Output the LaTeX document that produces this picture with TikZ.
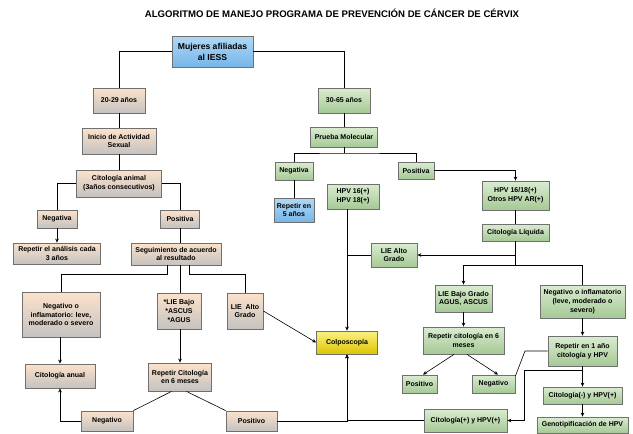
\documentclass[tikz,border=0pt]{standalone}
\usepackage{fontspec}
\setmainfont{Liberation Sans}
\usetikzlibrary{arrows.meta}
\definecolor{peachT}{RGB}{252,226,202}
\definecolor{peachB}{RGB}{196,194,192}
\definecolor{greenT}{RGB}{218,236,208}
\definecolor{greenB}{RGB}{165,201,150}
\definecolor{blueT}{RGB}{176,216,244}
\definecolor{blueB}{RGB}{118,182,234}
\definecolor{yellowT}{RGB}{250,242,130}
\definecolor{yellowB}{RGB}{222,196,0}
\definecolor{bordergray}{RGB}{112,112,112}
\tikzset{
  box/.style={draw=bordergray, line width=0.8pt, font=\bfseries\fontsize{7}{8.8}\selectfont, align=center, inner sep=1pt},
  peach/.style={box, top color=peachT, bottom color=peachB},
  green/.style={box, top color=greenT, bottom color=greenB},
  blue/.style={box, top color=blueT, bottom color=blueB},
  yellow/.style={box, top color=yellowT, bottom color=yellowB},
  wh/.style 2 args={minimum width=#1pt, minimum height=#2pt},
  conn/.style={draw=black, line width=0.6pt},
  arr/.style={conn, -{Stealth[length=4pt,width=3.6pt]}}
}
\begin{document}
\begin{tikzpicture}[x=1pt,y=-1pt]
\useasboundingbox (0,0) rectangle (633,434);
\fill[white] (0,0) rectangle (633,434);
\node[font=\bfseries\fontsize{9.6}{11}\selectfont] (title) at (332,13) {ALGORITMO DE MANEJO PROGRAMA DE PREVENCIÓN DE CÁNCER DE CÉRVIX};
% top
\node[blue, wh={81}{31}, font=\bfseries\fontsize{8.6}{11}\selectfont] (mujeres) at (212.5,51.5) {Mujeres afiliadas\\al IESS};
% left branch
\node[peach, wh={52}{25}] (a2029) at (119,100.5) {20-29 años};
\node[peach, wh={74}{26}] (inicio) at (119,141) {Inicio de Actividad\\Sexual};
\node[peach, wh={85}{27}] (citoanimal) at (119,183.5) {Citología animal\\(3años consecutivos)};
\node[peach, wh={40}{18}] (neg1) at (57,219) {Negativa};
\node[peach, wh={39}{18}] (pos1) at (180,219) {Positiva};
\node[peach, wh={87}{21}] (rep3) at (57,253.5) {Repetir el análisis cada\\3 años};
\node[peach, wh={90}{22}] (seg) at (176,254) {Seguimiento de acuerdo\\al resultado};
\node[peach, wh={78}{45}] (neginfl1) at (61,314.5) {Negativo o\\inflamatorio: leve,\\moderado o severo};
\node[peach, wh={44}{36}] (liebajo1) at (179,311) {*LIE Bajo\\*ASCUS\\*AGUS};
\node[peach, wh={36}{36}] (liealto1) at (245,311) {LIE\ \ Alto\\Grado};
\node[peach, wh={70}{24}] (citoanual) at (60,376) {Citología anual};
\node[peach, wh={63}{28}] (repcito1) at (180,377) {Repetir Citología\\en 6 meses};
\node[peach, wh={52}{20}] (negativo1) at (107,421) {Negativo};
\node[peach, wh={51}{20}] (positivo1) at (251.5,421) {Positivo};
\node[yellow, wh={61}{23}] (colpo) at (347,342.5) {Colposcopía};
% right branch
\node[green, wh={52}{25}] (a3065) at (344,100.5) {30-65 años};
\node[green, wh={67}{20}] (prueba) at (344,137) {Prueba Molecular};
\node[green, wh={38}{18}] (negativa2) at (294,171) {Negativa};
\node[blue, wh={40}{24}] (rep5) at (294,210) {Repetir en\\5 años};
\node[green, wh={36}{17}] (positiva2) at (416,170.5) {Positiva};
\node[green, wh={67}{29}] (hpv1618) at (515.5,195.5) {HPV 16/18(+)\\Otros HPV AR(+)};
\node[green, wh={67}{17}] (citoliq) at (515.5,232.5) {Citología Líquida};
\node[green, wh={52}{25}] (hpv16) at (353,196.5) {HPV 16(+)\\HPV 18(+)};
\node[green, wh={46}{24}] (liealto2) at (394,255) {LIE Alto\\Grado};
\node[green, wh={57}{27}] (liebajo2) at (463.5,298.5) {LIE Bajo Grado\\AGUS, ASCUS};
\node[green, wh={85}{33}] (neginfl2) at (582.5,301.5) {Negativo o inflamatorio\\(leve, moderado o\\severo)};
\node[green, wh={81}{27}] (repcito2) at (463.5,340.5) {Repetir citología en 6\\meses};
\node[green, wh={69}{30}] (rep1) at (582.5,351) {Repetir en 1 año\\citología y HPV};
\node[green, wh={35}{18}] (positivo2) at (419.5,384) {Positivo};
\node[green, wh={43}{18}] (negativo2) at (493.5,384) {Negativo};
\node[green, wh={79}{17}] (citomenos) at (582.5,395.5) {Citología(-) y HPV(+)};
\node[green, wh={91}{16}] (genotip) at (582.5,425) {Genotipificación de HPV};
\node[green, wh={83}{23}] (citomas) at (465.5,420.5) {Citología(+) y HPV(+)};
% junctions
\coordinate (j1) at (167,274);
\coordinate (j2) at (189,274);
\coordinate (j3) at (344,153);
\coordinate (j4) at (515.5,265);
\coordinate (j5) at (525,351);
\coordinate (j6) at (524,370);
% connectors left
\draw[conn] (mujeres.west) -| (a2029.north);
\draw[conn] (mujeres.east) -| (a3065.north);
\draw[conn] (a2029.south) -- (inicio.north);
\draw[conn] (inicio.south) -- (citoanimal.north);
\draw[conn] (citoanimal.west) -| (neg1.north);
\draw[conn] (citoanimal.east) -| (pos1.north);
\draw[arr] (neg1.south) -- (rep3.north -| neg1.south);
\draw[conn] (pos1.south) -- (seg.north -| pos1.south);
\draw[conn] (seg.south -| j1) -- (j1) -| (neginfl1.north);
\draw[conn] (seg.south -| pos1.south) -- (liebajo1.north -| pos1.south);
\draw[conn] (seg.south -| j2) -- (j2) -| (liealto1.north);
\draw[arr] (neginfl1.south -| citoanual.north) -- (citoanual.north);
\draw[arr] (liebajo1.south -| repcito1.north) -- (repcito1.north);
\draw[arr] (liealto1.east) -- (colpo.west);
\draw[conn] ([xshift=-8.5pt]repcito1.south) -- (negativo1.north east);
\draw[conn] ([xshift=6.5pt]repcito1.south) -- (positivo1.north west);
\draw[arr] (negativo1.west) -| (citoanual.south);
\draw[arr] (positivo1.east) -| (colpo.south);
% connectors right
\draw[conn] (a3065.south) -- (prueba.north);
\draw[conn] (prueba.south) -- (j3);
\draw[conn] (negativa2.north) |- (j3) -| (positiva2.north);
\draw[conn] (negativa2.south) -- (rep5.north);
\draw[arr] (positiva2.east) -| (hpv1618.north);
\draw[conn] (hpv1618.south) -- (citoliq.north);
\draw[conn] (citoliq.south) -- (j4);
\draw[arr] (citoliq.south |- liealto2.east) -- (liealto2.east);
\draw[arr] (j4) -| (liebajo2.north);
\draw[conn] (j4) -| (neginfl2.north);
\draw[arr] (hpv16.south -| colpo.north) -- (colpo.north);
\draw[conn] (liealto2.west) -- (liealto2.west -| colpo.north);
\draw[arr] (liebajo2.south) -- (repcito2.north);
\draw[arr] (neginfl2.south) -- (rep1.north);
\draw[arr] ([xshift=-9.5pt]repcito2.south) -- ([xshift=3.5pt]positivo2.north);
\draw[arr] ([xshift=3.5pt]repcito2.south) -- ([xshift=4.5pt]negativo2.north);
\draw[conn] (negativo2.20) -- (j5) -- (rep1.west);
\draw[arr] (rep1.south) -- (citomenos.north);
\draw[arr] (citomenos.south) -- (genotip.north);
\draw[arr] (rep1.south |- j6) -- (j6) |- (citomas.east);
\draw[arr] (citomas.west) -| (colpo.south);
\end{tikzpicture}
\end{document}
